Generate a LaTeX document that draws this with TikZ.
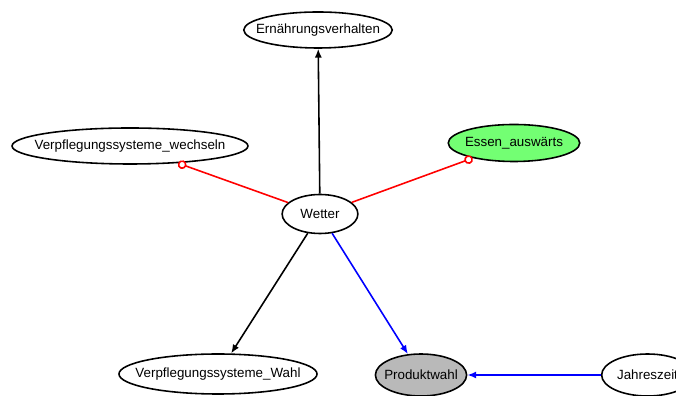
\documentclass[tikz,border=0pt]{standalone}
\usepackage{fontspec}
\setmainfont{Liberation Sans}
\usetikzlibrary{shapes.geometric, arrows.meta, positioning}

\begin{document}
\begin{tikzpicture}[font=\fontsize{7.6}{9}\selectfont, line width=0.9pt,
    var/.style={draw, ellipse, inner ysep=0pt, minimum height=0.74cm, fill=white},
    cause/.style={-{Latex[length=5pt, width=4pt]}},
    link/.style={red, -{Circle[open, length=5pt, width=5pt, fill=white]}}]
    \useasboundingbox (0,0) rectangle (13.52,7.92);
    % Knoten
    \node[var, inner xsep=0.145cm, minimum height=0.78cm] (wetter) at (6.40,3.64) {Wetter};
    \node[var, inner xsep=-0.19cm, minimum height=0.72cm] (ernaehrung) at (6.36,7.32) {Ernährungsverhalten};
    \node[var, inner xsep=-0.24cm, minimum height=0.72cm] (wechseln) at (2.60,5.00) {Verpflegungssysteme\_wechseln};
    \node[var, inner xsep=-0.05cm, fill=green!55!white] (essen) at (10.28,5.06) {Essen\_auswärts};
    \node[var, inner xsep=-0.25cm, minimum height=0.80cm] (wahl) at (4.36,0.44) {Verpflegungssysteme\_Wahl};
    \node[var, inner xsep=-0.09cm, minimum height=0.84cm, fill=gray!55] (produkt) at (8.42,0.42) {Produktwahl};
    \node[var, inner xsep=0.04cm, minimum height=0.84cm] (jahr) at (12.95,0.42) {Jahreszeit};
    % gerichtete Kanten
    \draw[cause] (wetter) -- (ernaehrung);
    \draw[cause] (wetter) -- (wahl);
    \draw[cause, blue] (wetter) -- (produkt);
    \draw[cause, blue] (jahr) -- (produkt);
    % Kanten mit Kreis
    \draw[link] (wetter) -- (wechseln);
    \draw[link] (wetter) -- (essen);
\end{tikzpicture}
\end{document}
